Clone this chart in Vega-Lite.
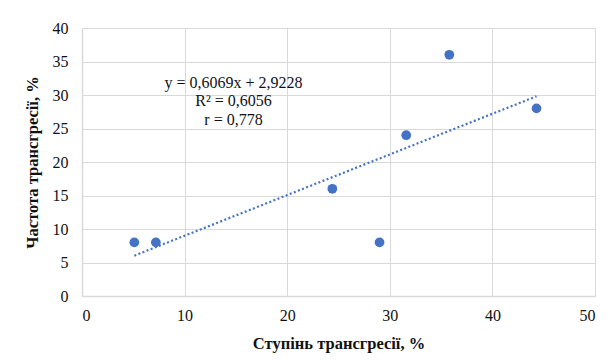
{
  "$schema": "https://vega.github.io/schema/vega-lite/v6.json",
  "width": 513,
  "height": 268,
  "autosize": {"type": "none"},
  "padding": {"left": 82, "top": 28, "right": 16, "bottom": 66},
  "background": "white",
  "config": {
    "font": "Liberation Serif",
    "view": {"stroke": null},
    "axis": {
      "gridColor": "#d9d9d9",
      "gridWidth": 1,
      "domainColor": "#d9d9d9",
      "domainWidth": 1.5,
      "ticks": false,
      "labelOverlap": false,
      "labelFont": "Liberation Serif",
      "labelFontSize": 16,
      "labelColor": "#111111",
      "titleFont": "Liberation Serif",
      "titleFontSize": 16.5,
      "titleFontWeight": "bold",
      "titleColor": "#111111"
    }
  },
  "datasets": {
    "points": [
      {"stupin": 5.1, "chastota": 8},
      {"stupin": 7.2, "chastota": 8},
      {"stupin": 24.4, "chastota": 16},
      {"stupin": 29.0, "chastota": 8},
      {"stupin": 31.6, "chastota": 24},
      {"stupin": 35.8, "chastota": 36},
      {"stupin": 44.3, "chastota": 28}
    ],
    "trend": [
      {"stupin": 5.1, "chastota": 6.02},
      {"stupin": 44.3, "chastota": 29.81}
    ]
  },
  "encoding": {
    "x": {
      "field": "stupin",
      "type": "quantitative",
      "scale": {"domain": [0, 50], "nice": false},
      "axis": {
        "values": [0, 10, 20, 30, 40, 50],
        "title": "Ступінь трансгресії, %",
        "labelPadding": 11,
        "titlePadding": 12,
        "grid": true
      }
    },
    "y": {
      "field": "chastota",
      "type": "quantitative",
      "scale": {"domain": [0, 40], "nice": false},
      "axis": {
        "values": [0, 5, 10, 15, 20, 25, 30, 35, 40],
        "title": "Частота трансгресії, %",
        "labelPadding": 14,
        "titlePadding": 12,
        "grid": true
      }
    }
  },
  "layer": [
    {
      "data": {"name": "trend"},
      "mark": {"type": "line", "color": "#4472C4", "strokeWidth": 2.2, "strokeDash": [2, 2.4]}
    },
    {
      "data": {"name": "points"},
      "mark": {"type": "point", "filled": true, "opacity": 1, "color": "#4472C4", "size": 95}
    },
    {
      "data": {"name": "points"},
      "transform": [{"filter": "datum.chastota == 36"}],
      "mark": {
        "type": "text",
        "text": ["y = 0,6069x + 2,9228", "R² = 0,6056", "r = 0,778"],
        "font": "Liberation Serif",
        "fontSize": 16,
        "color": "#111111",
        "align": "center",
        "baseline": "middle",
        "lineHeight": 18.5
      },
      "encoding": {
        "x": {"datum": 14.77},
        "y": {"datum": 31.8}
      }
    }
  ]
}
